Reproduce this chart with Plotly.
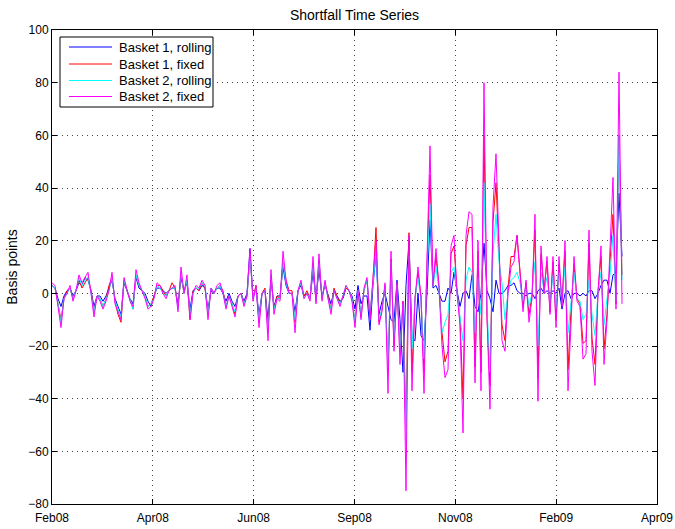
import plotly.graph_objects as go

tick_labels = ["Feb08", "Apr08", "Jun08", "Sep08", "Nov08", "Feb09", "Apr09"]

basket1_rolling = [
    3, 2, -2, -5, -1, 1, 2, -1, 1, 4,
    3, 6, 5, 1, -5, -1, -1, -3, -1, 2,
    5, -2, -5, -8, 4, 1, -2, -4, 6, 2,
    1, 0, -3, -5, -1, 2, 2, 1, 0, 1,
    2, 2, -4, 6, 1, 4, -6, 1, 2, 1,
    3, 2, -6, 1, 0, 2, 2, 0, -3, 0,
    -3, -5, -1, 0, -3, 0, 17, -2, 2, -8,
    0, 1, -10, 5, -5, -1, -1, 10, 3, 0,
    0, -7, 1, 3, -1, 0, -2, 8, -2, 9,
    -1, 3, -1, -4, 1, -1, -3, -2, 2, 1,
    -1, -6, 3, -4, -1, -1, -14, 3, 15, -8,
    -3, 0, -5, -10, -11, 5, -10, -30, 3, 20,
    -17, -18, 0, -16, -18, 0, 28, 2, 3, 0,
    -3, -3, 2, 0, 8, 1, -5, 0, 1, -2,
    7, -5, -7, 0, 19, 1, -2, -7, 5, 0,
    0, 1, 3, 3, 4, 1, 0, 0, -1, 0,
    0, -2, 1, 2, 0, 1, 0, 1, 0, 2,
    -6, 0, 1, -2, 0, 0, -1, 0, -1, 1,
    1, -2, 0, 3, 5, 5, 0, 7, 8, 38,
    14,
]

basket1_fixed = [
    3, 2, -4, -10, -2, 1, 2, -2, 1, 5,
    2, 4, 6, 1, -7, -1, -2, -5, -2, 3,
    6, -3, -8, -11, 5, 1, -3, -6, 7, 3,
    1, -1, -5, -4, -1, 3, 3, 1, -1, 1,
    4, 2, -5, 7, 0, 5, -10, 1, 2, 1,
    4, 2, -8, 2, 0, 2, 3, 1, -5, -1,
    -4, -8, -1, 0, -4, -1, 14, -2, 3, -11,
    0, 2, -14, 7, -6, -1, -2, 12, 5, 1,
    1, -11, 1, 4, -1, 1, -2, 11, -3, 12,
    -2, 4, -1, -6, 2, -1, -4, -1, 2, 1,
    -2, -11, 1, -9, 1, 5, -9, 5, 25, -11,
    -6, 3, -30, 13, -20, 3, -22, -3, -50, 23,
    -30, -2, 8, -1, -30, 11, 45, 3, 14, 3,
    -15, -26, -22, 15, 18, 1, -10, -40, 18, 25,
    25, -28, 16, -30, 60, -9, -35, 27, 42, 16,
    -12, -18, 2, 14, 14, 22, 10, -5, 4, -8,
    -1, 24, -32, 15, 1, 12, -7, 12, -10, 11,
    -3, 16, -29, -6, 11, -2, -4, -19, -18, 19,
    -17, -27, 1, 14, -21, -8, 12, 30, -4, 60,
    7,
]

basket2_rolling = [
    3, 2, -4, -11, -2, 0, 2, -2, 1, 6,
    3, 5, 6, 0, -7, -1, -2, -5, -2, 1,
    6, -3, -6, -9, 5, 1, -2, -6, 7, 3,
    1, -1, -5, -4, -2, 3, 2, 0, -1, 1,
    2, 2, -6, 8, 0, 5, -8, 0, 2, 2,
    4, 3, -8, 2, 0, 2, 3, 0, -5, -1,
    -4, -7, -1, 0, -4, -1, 14, -2, 2, -10,
    0, 1, -15, 7, -6, -2, -2, 12, 4, 0,
    0, -10, 1, 4, -2, 0, -2, 11, -3, 13,
    -2, 4, -2, -6, 1, -2, -4, -1, 3, 1,
    -2, -11, 1, -8, 1, 5, -8, 4, 16, -10,
    -6, 3, -28, 12, -18, 3, -22, -4, -57, 14,
    -21, -2, 6, -3, -25, 9, 34, 3, 10, 1,
    -15, -11, -8, 8, 10, 0, -8, -18, 5, 10,
    8, -15, 6, -8, 42, -5, -30, 15, 30, 12,
    4, -10, 0, 5, 6, 8, 4, -3, 3, -5,
    0, 12, -20, 8, 1, 6, -4, 7, -6, 8,
    -3, 10, -15, -4, 8, -2, -3, -10, -8, 5,
    -8, -16, 0, 8, -12, -2, 7, 22, -3, 60,
    5,
]

basket2_fixed = [
    4, 3, -5, -13, -2, 0, 3, -3, 1, 7,
    4, 6, 8, 0, -9, -1, -3, -6, -3, 1,
    8, -4, -7, -10, 6, 1, -3, -5, 9, 4,
    1, -2, -6, -5, -2, 4, 3, 0, -2, 1,
    2, 3, -7, 10, 0, 7, -10, 0, 3, 2,
    5, 3, -10, 2, 0, 3, 4, 0, -6, -1,
    -5, -9, -1, 0, -5, -1, 17, -3, 3, -13,
    0, 1, -18, 9, -8, -2, -3, 16, 5, 0,
    0, -15, 1, 5, -2, 0, -3, 14, -4, 15,
    -3, 5, -2, -8, 1, -2, -5, -1, 3, 1,
    -3, -13, 1, -10, 2, 6, -10, 6, 20, -12,
    -7, 4, -38, 16, -22, 4, -27, -3, -75, 22,
    -37, -2, 10, -2, -38, 13, 56, 3, 17, 2,
    -20, -32, -29, 18, 22, 0, -12, -53, 22, 31,
    30, -34, 20, -37, 80, -9, -44, 33, 53, 19,
    -18, -22, 0, 10, 12, 22, 8, -7, 5, -11,
    -2, 30, -41, 18, 0, 14, -8, 14, -13, 14,
    -5, 20, -37, -8, 14, -3, -5, -25, -23, 24,
    -22, -35, 0, 18, -27, -10, 14, 44, -6, 84,
    -4,
]

n = len(basket2_fixed)
x = list(range(n))
# axis spans a bit beyond the data (data ends ~94% of the way)
xmax = (n - 1) * 605.0 / 570.0
tickvals = [xmax * k / 6 for k in range(7)]

series = [
    ("Basket 1, rolling", basket1_rolling, "#0000FF"),
    ("Basket 1, fixed", basket1_fixed, "#FF0000"),
    ("Basket 2, rolling", basket2_rolling, "#00FFFF"),
    ("Basket 2, fixed", basket2_fixed, "#FF00FF"),
]

W, H = 675, 529
ML, MR, MT, MB = 52, 18, 30, 25
PW, PH = W - ML - MR, H - MT - MB


def px(xp):
    return (xp - ML) / PW


def py(yp):
    return (H - MB - yp) / PH


fig = go.Figure()
for name, vals, col in series:
    fig.add_trace(go.Scatter(x=x, y=vals, mode="lines", name=name,
                             line=dict(color=col, width=1), showlegend=False))

font_family = "Liberation Sans, Arial, Helvetica, sans-serif"
axis_common = dict(
    showline=True, linecolor="black", linewidth=1, mirror="ticks",
    ticks="inside", ticklen=5, tickcolor="black",
    showgrid=True, gridcolor="#444444", gridwidth=1, griddash="1px,4px",
    zeroline=False, automargin=False,
    tickfont=dict(size=12, color="black", family=font_family),
)

# custom legend (box, line samples, labels)
shapes = [dict(type="rect", xref="paper", yref="paper",
               x0=px(60), x1=px(213), y0=py(107), y1=py(37),
               line=dict(color="black", width=1), fillcolor="white", layer="above")]
annotations = []
row_y = [47, 64, 80.5, 96.5]
for (name, _, col), ry in zip(series, row_y):
    shapes.append(dict(type="line", xref="paper", yref="paper",
                       x0=px(69), x1=px(112), y0=py(ry), y1=py(ry),
                       line=dict(color=col, width=1), layer="above"))
    annotations.append(dict(text=name, xref="paper", yref="paper",
                            x=px(117), y=py(ry), xanchor="left", yanchor="middle",
                            showarrow=False,
                            font=dict(size=13, color="black", family=font_family)))

fig.update_layout(
    width=W, height=H,
    margin=dict(l=ML, r=MR, t=MT, b=MB),
    paper_bgcolor="white", plot_bgcolor="white",
    font=dict(family=font_family, size=12, color="black"),
    title=dict(text="Shortfall Time Series", x=0.5, xref="paper",
               y=1 - 15.0 / H, yref="container", xanchor="center", yanchor="middle",
               font=dict(size=14, color="black")),
    showlegend=False,
    shapes=shapes,
    annotations=annotations,
)
fig.update_xaxes(range=[0, xmax], tickvals=tickvals, ticktext=tick_labels,
                 ticklabelstandoff=3, **axis_common)
fig.update_yaxes(range=[-80, 100], tickvals=list(range(-80, 101, 20)),
                 title=dict(text="Basis points", standoff=7,
                            font=dict(size=14, color="black")),
                 **axis_common)

fig.write_html("out.html", config={"displayModeBar": False},
               post_script="document.body.style.margin='0px';document.body.style.overflow='hidden';")
